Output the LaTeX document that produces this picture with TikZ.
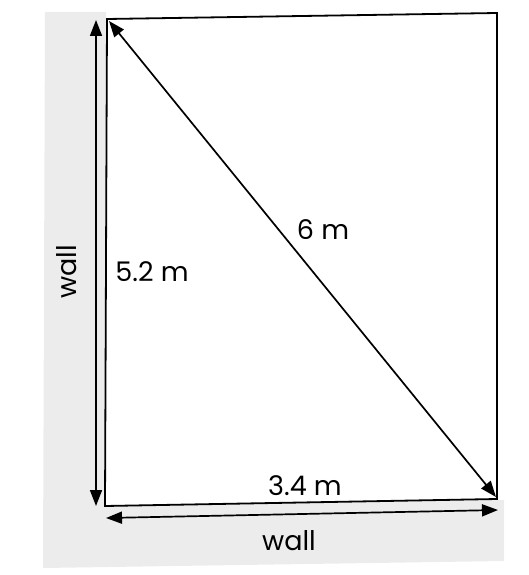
\documentclass[tikz,border=0pt]{standalone}
\usepackage{fontspec}
\setmainfont{Poppins}
\usetikzlibrary{arrows.meta}
\begin{document}
\begin{tikzpicture}[x=1pt,y=-1pt,
  dim/.style={line width=1.7pt,{Triangle[length=16pt,width=12pt]}-{Triangle[length=16pt,width=12pt]}},
  lbl/.style={font=\fontsize{27}{31}\selectfont, inner sep=0pt}]
\useasboundingbox (0,0) rectangle (529,575);
% wall (gray L-shape)
\fill[gray!15] (45,12) -- (106,12) -- (106,503) -- (504,500) -- (504,561) -- (43,568) -- cycle;
% room
\coordinate (tl) at (107,19);
\coordinate (tr) at (497,13);
\coordinate (br) at (497,499);
\coordinate (bl) at (105,506);
\draw[line width=1.8pt, fill=white] (tl) -- (tr) -- (br) -- (bl) -- cycle;
% dimension arrows
\coordinate (vt) at (96,20);
\coordinate (vb) at (96,506);
\draw[dim] (vt) -- (vb);
\coordinate (hl) at (106,518);
\coordinate (hr) at (498,510);
\draw[dim] (hl) -- (hr);
\coordinate (dt) at (109,21);
\coordinate (db) at (496,497);
\draw[dim] (dt) -- (db);
% labels
\node[lbl, rotate=90] (wl) at (67,272) {wall};
\node[lbl] (h) at (152,272) {5.2 m};
\node[lbl] (d) at (323,230) {6 m};
\node[lbl] (w) at (305,486) {3.4 m};
\node[lbl] (wb) at (289,541) {wall};
\end{tikzpicture}
\end{document}
